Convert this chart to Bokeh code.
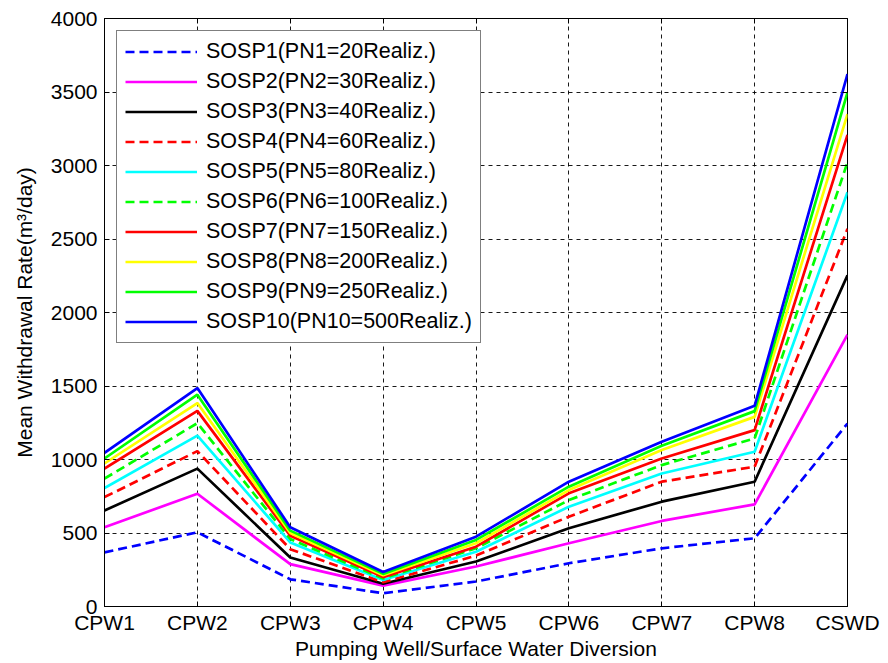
from bokeh.plotting import figure
from bokeh.models import Range1d, FixedTicker, LinearAxis
from bokeh.embed import file_html
from bokeh.resources import INLINE

categories = ["CPW1", "CPW2", "CPW3", "CPW4", "CPW5", "CPW6", "CPW7", "CPW8", "CSWD"]

sosp1 = [368, 505, 185, 90, 170, 294, 396, 464, 1245]
sosp2 = [539, 767, 288, 142, 272, 430, 582, 695, 1849]
sosp3 = [653, 938, 333, 155, 306, 532, 713, 849, 2253]
sosp4 = [744, 1057, 390, 165, 346, 611, 849, 951, 2569]
sosp5 = [806, 1162, 436, 180, 373, 679, 905, 1053, 2818]
sosp6 = [870, 1247, 459, 190, 396, 724, 962, 1143, 3022]
sosp7 = [938, 1331, 482, 200, 407, 770, 1007, 1200, 3208]
sosp8 = [973, 1384, 500, 212, 430, 792, 1064, 1290, 3350]
sosp9 = [1007, 1441, 516, 222, 453, 815, 1093, 1329, 3497]
sosp10 = [1045, 1486, 539, 235, 475, 849, 1120, 1365, 3622]

labels = [
    "SOSP1(PN1=20Realiz.)", "SOSP2(PN2=30Realiz.)", "SOSP3(PN3=40Realiz.)",
    "SOSP4(PN4=60Realiz.)", "SOSP5(PN5=80Realiz.)", "SOSP6(PN6=100Realiz.)",
    "SOSP7(PN7=150Realiz.)", "SOSP8(PN8=200Realiz.)", "SOSP9(PN9=250Realiz.)",
    "SOSP10(PN10=500Realiz.)",
]
series = [sosp1, sosp2, sosp3, sosp4, sosp5, sosp6, sosp7, sosp8, sosp9, sosp10]
colors = ["#0000FF", "#FF00FF", "#000000", "#FF0000", "#00FFFF",
          "#00FF00", "#FF0000", "#FFFF00", "#00FF00", "#0000FF"]
dashes = ["9 5", "solid", "solid", "9 5", "solid", "9 5", "solid", "solid", "solid", "solid"]

y_ticks = [0, 500, 1000, 1500, 2000, 2500, 3000, 3500, 4000]

FONT = "Liberation Sans"

xs = list(range(len(categories)))

p = figure(width=880, height=662, output_backend="svg", toolbar_location=None,
           x_range=Range1d(0, len(categories) - 1), y_range=Range1d(0, 4000),
           min_border_left=104, min_border_right=33, min_border_top=18, min_border_bottom=40)

p.outline_line_color = "black"
p.outline_line_width = 1
p.background_fill_color = "white"

for ys, lab, col, d in zip(series, labels, colors, dashes):
    p.line(xs, ys, line_color=col, line_width=2.7, line_dash=d, legend_label=lab)

# axes
p.xaxis.ticker = FixedTicker(ticks=xs)
p.xaxis.major_label_overrides = {i: c for i, c in enumerate(categories)}
p.yaxis.ticker = FixedTicker(ticks=y_ticks)
for ax in (p.xaxis[0], p.yaxis[0]):
    ax.major_tick_in = 5
    ax.major_tick_out = 0
    ax.minor_tick_in = 0
    ax.minor_tick_out = 0
    ax.axis_line_color = "black"
    ax.major_tick_line_color = "black"
    ax.major_label_text_font = FONT
    ax.major_label_text_font_size = "21px"
    ax.major_label_text_color = "black"
    ax.axis_label_text_font = FONT
    ax.axis_label_text_font_size = "21px"
    ax.axis_label_text_font_style = "normal"
    ax.axis_label_text_color = "black"

p.xaxis.axis_label = "Pumping Well/Surface Water Diversion"
p.yaxis.axis_label = "Mean Withdrawal Rate(m³/day)"
p.xaxis.major_label_standoff = 4
p.xaxis.axis_label_standoff = 0
p.yaxis.major_label_standoff = 7
p.yaxis.axis_label_standoff = 12

# top and right tick-only axes (MATLAB box style)
top = LinearAxis(ticker=FixedTicker(ticks=xs),
                 major_label_overrides={i: "" for i in xs},
                 major_tick_in=5, major_tick_out=0, minor_tick_in=0, minor_tick_out=0,
                 axis_line_color=None, major_label_standoff=0)
right = LinearAxis(ticker=FixedTicker(ticks=y_ticks),
                   major_label_overrides={t: "" for t in y_ticks},
                   major_tick_in=5, major_tick_out=0, minor_tick_in=0, minor_tick_out=0,
                   axis_line_color=None, major_label_standoff=0)
p.add_layout(top, "above")
p.add_layout(right, "right")

# grid
p.xgrid.ticker = FixedTicker(ticks=xs)
p.ygrid.ticker = FixedTicker(ticks=y_ticks)
for g in (p.xgrid[0], p.ygrid[0]):
    g.grid_line_color = "black"
    g.grid_line_dash = "4 4"
    g.grid_line_width = 1
    g.grid_line_alpha = 0.9

# legend
lg = p.legend[0]
lg.location = "top_left"
lg.margin = 12
lg.padding = 8
lg.spacing = 5
lg.glyph_width = 72
lg.glyph_height = 21
lg.label_height = 21
lg.label_standoff = 9
lg.label_text_font = FONT
lg.label_text_font_size = "21.5px"
lg.label_text_color = "black"
lg.border_line_color = "black"
lg.border_line_width = 1
lg.background_fill_color = "white"
lg.background_fill_alpha = 1.0

open("out.html", "w").write(file_html(p, INLINE))
